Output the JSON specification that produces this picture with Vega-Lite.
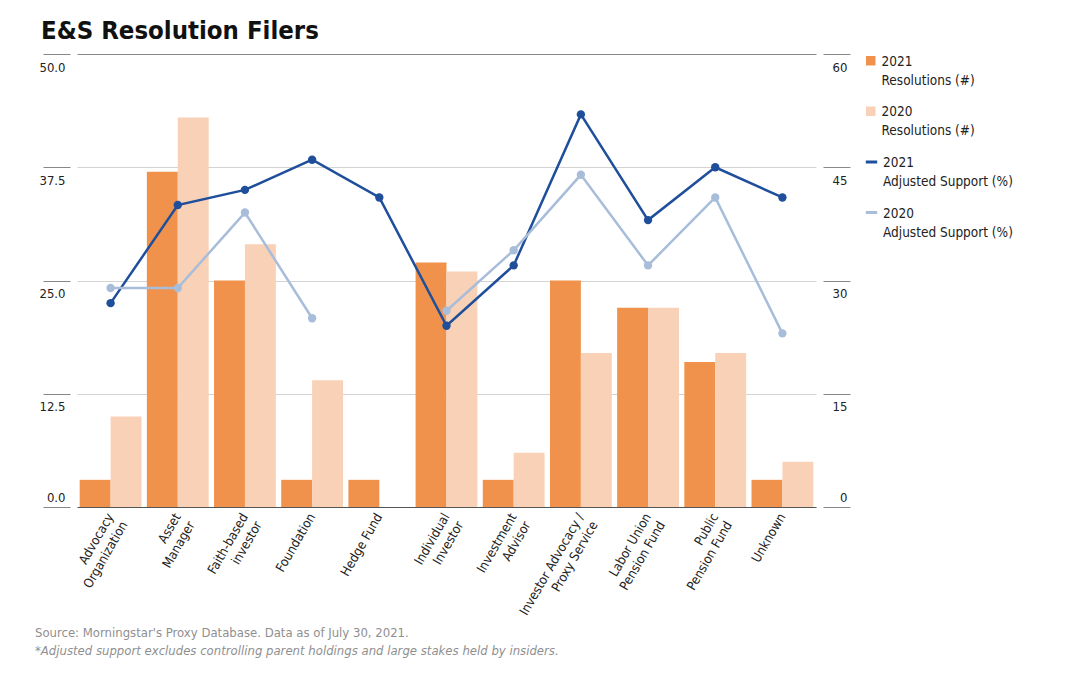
{
  "$schema": "https://vega.github.io/schema/vega-lite/v6.json",
  "background": "white",
  "padding": {"left": 34, "top": 19, "right": 10, "bottom": 10},
  "config": {
    "font": "DejaVu Sans Condensed, Roboto, sans-serif",
    "view": {"stroke": null},
    "axis": {"labelFont": "DejaVu Sans Condensed, Roboto, sans-serif", "labelFontSize": 13, "labelColor": "#222222"},
    "legend": {
      "labelFont": "DejaVu Sans Condensed, Roboto, sans-serif",
      "labelFontSize": 13.5,
      "labelColor": "#222222",
      "rowPadding": 16.5,
      "offset": 13,
      "layout": {"right": {"anchor": "start", "direction": "vertical", "margin": 16.5}}
    }
  },
  "title": {"text": "E&S Resolution Filers", "anchor": "start", "font": "DejaVu Sans Condensed, Roboto, sans-serif", "fontSize": 25.5, "fontWeight": "bold", "color": "#111111", "dx": 6, "offset": 9},
  "datasets": {
    "filers": [
      {"filer": "Advocacy\nOrganization", "year": "2021", "resolutions": 3, "support": 27},
      {"filer": "Advocacy\nOrganization", "year": "2020", "resolutions": 10, "support": 29},
      {"filer": "Asset\nManager", "year": "2021", "resolutions": 37, "support": 40},
      {"filer": "Asset\nManager", "year": "2020", "resolutions": 43, "support": 29},
      {"filer": "Faith-based\ninvestor", "year": "2021", "resolutions": 25, "support": 42},
      {"filer": "Faith-based\ninvestor", "year": "2020", "resolutions": 29, "support": 39},
      {"filer": "Foundation", "year": "2021", "resolutions": 3, "support": 46},
      {"filer": "Foundation", "year": "2020", "resolutions": 14, "support": 25},
      {"filer": "Hedge Fund", "year": "2021", "resolutions": 3, "support": 41},
      {"filer": "Hedge Fund", "year": "2020", "resolutions": null, "support": null},
      {"filer": "Individual\nInvestor", "year": "2021", "resolutions": 27, "support": 24},
      {"filer": "Individual\nInvestor", "year": "2020", "resolutions": 26, "support": 26},
      {"filer": "Investment\nAdvisor", "year": "2021", "resolutions": 3, "support": 32},
      {"filer": "Investment\nAdvisor", "year": "2020", "resolutions": 6, "support": 34},
      {"filer": "Investor Advocacy /\nProxy Service", "year": "2021", "resolutions": 25, "support": 52},
      {"filer": "Investor Advocacy /\nProxy Service", "year": "2020", "resolutions": 17, "support": 44},
      {"filer": "Labor Union\nPension Fund", "year": "2021", "resolutions": 22, "support": 38},
      {"filer": "Labor Union\nPension Fund", "year": "2020", "resolutions": 22, "support": 32},
      {"filer": "Public\nPension Fund", "year": "2021", "resolutions": 16, "support": 45},
      {"filer": "Public\nPension Fund", "year": "2020", "resolutions": 17, "support": 41},
      {"filer": "Unknown", "year": "2021", "resolutions": 3, "support": 41},
      {"filer": "Unknown", "year": "2020", "resolutions": 5, "support": 23}
    ]
  },
  "vconcat": [
    {
      "width": 739,
      "height": 453,
      "title": {
        "text": "Source: Morningstar's Proxy Database. Data as of July 30, 2021.",
        "subtitle": "*Adjusted support excludes controlling parent holdings and large stakes held by insiders.",
        "orient": "bottom",
        "anchor": "start",
        "font": "DejaVu Sans Condensed, Roboto, sans-serif",
        "fontSize": 13,
        "fontWeight": "normal",
        "color": "#8f8f8f",
        "subtitleFont": "DejaVu Sans Condensed, Roboto, sans-serif",
        "subtitleFontSize": 13,
        "subtitleFontStyle": "italic",
        "subtitleColor": "#8f8f8f",
        "subtitlePadding": 5,
        "dx": -4,
        "offset": 2
      },
      "data": {"name": "filers"},
      "encoding": {
        "x": {
          "field": "filer",
          "type": "nominal",
          "sort": null,
          "scale": {"paddingInner": 0.08, "paddingOuter": 0.04},
          "axis": {
            "title": null,
            "labelAngle": -60,
            "labelExpr": "split(datum.label, '\\n')",
            "labelLineHeight": 16,
            "labelPadding": 7,
            "ticks": false,
            "domainColor": "#555555",
            "domainWidth": 1.2
          }
        }
      },
      "layer": [
        {
          "mark": {"type": "bar"},
          "encoding": {
            "xOffset": {"field": "year", "type": "nominal", "sort": ["2021", "2020"], "scale": {"paddingInner": 0, "paddingOuter": 0}},
            "y": {
              "field": "resolutions",
              "type": "quantitative",
              "scale": {"domain": [0, 50], "nice": false},
              "axis": {
                "title": null,
                "orient": "left",
                "values": [0, 12.5, 25, 37.5, 50],
                "format": ".1f",
                "domain": false,
                "offset": 7,
                "tickSize": 27,
                "tickColor": "#888888",
                "labelAlign": "right",
                "labelPadding": -22,
                "labelBaseline": {"condition": {"test": "datum.value === 0", "value": "bottom"}, "value": "top"},
                "labelOffset": {"condition": {"test": "datum.value === 0", "value": -3}, "value": 7},
                "grid": true,
                "gridColor": {"condition": {"test": "datum.value === 50", "value": "#888888"}, "value": "#d3d3d3"}
              }
            },
            "color": {
              "field": "year",
              "type": "nominal",
              "scale": {"domain": ["2021", "2020"], "range": ["#F0924C", "#F8D1B6"]},
              "legend": {
                "title": null,
                "orient": "right",
                "labelExpr": "[datum.label, 'Resolutions (#)']",
                "labelBaseline": "top",
                "symbolType": "square",
                "symbolSize": 90,
                "symbolStrokeWidth": 0,
                "encode": {"labels": {"update": {"dy": {"value": -6}, "lineHeight": {"value": 19}}}}
              }
            }
          }
        },
        {
          "encoding": {
            "y": {
              "field": "support",
              "type": "quantitative",
              "scale": {"domain": [0, 60], "nice": false},
              "axis": {
                "title": null,
                "orient": "right",
                "values": [0, 15, 30, 45, 60],
                "domain": false,
                "grid": false,
                "offset": 7,
                "tickSize": 27,
                "tickColor": "#888888",
                "labelAlign": "right",
                "labelPadding": -3,
                "labelBaseline": {"condition": {"test": "datum.value === 0", "value": "bottom"}, "value": "top"},
                "labelOffset": {"condition": {"test": "datum.value === 0", "value": -3}, "value": 7}
              }
            },
            "color": {
              "field": "year",
              "type": "nominal",
              "scale": {"domain": ["2021", "2020"], "range": ["#1F4E9B", "#A8BDDA"]},
              "legend": {
                "title": null,
                "orient": "right",
                "labelExpr": "[datum.label, 'Adjusted Support (%)']",
                "labelBaseline": "top",
                "symbolType": "stroke",
                "symbolSize": 130,
                "symbolStrokeWidth": 3,
                "encode": {"labels": {"update": {"dy": {"value": -6}, "lineHeight": {"value": 19}}}}
              }
            }
          },
          "layer": [
            {
              "mark": {"type": "line", "strokeWidth": 2.5, "invalid": "break-paths-filter-domains"}
            },
            {
              "transform": [{"filter": "datum.support != null"}],
              "mark": {"type": "point", "filled": true, "opacity": 1, "size": 70}
            }
          ]
        }
      ],
      "resolve": {"scale": {"y": "independent", "color": "independent"}}
    }
  ]
}
